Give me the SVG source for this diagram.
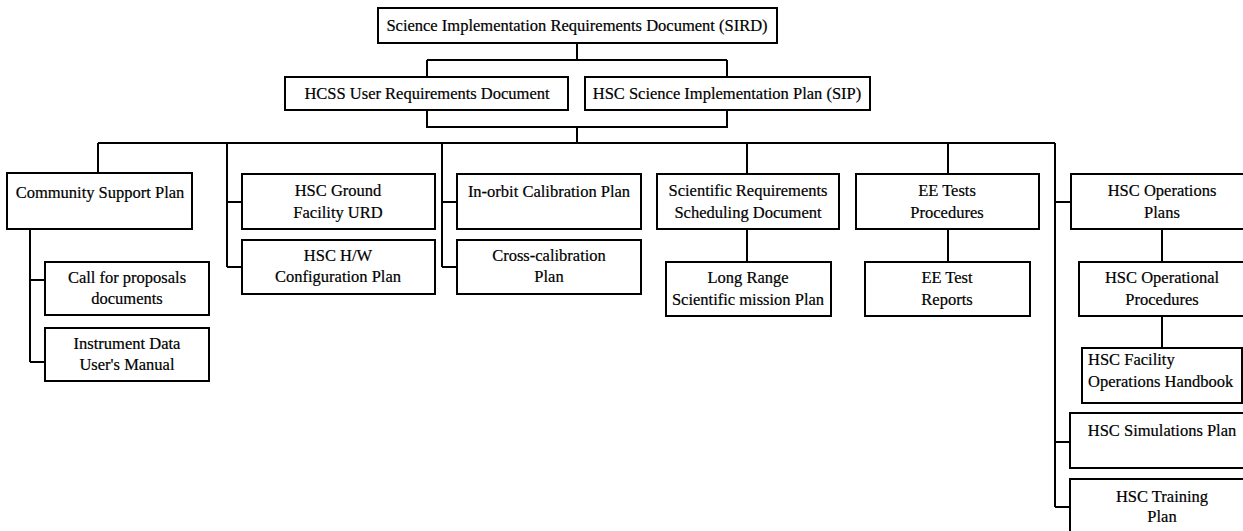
<svg xmlns="http://www.w3.org/2000/svg" width="1243" height="531" viewBox="0 0 1243 531">
  <style>
    .box { fill: #ffffff; stroke: #000000; stroke-width: 2; }
    .lbl { font-family: "Liberation Serif", "Times New Roman", serif; font-size: 16.5px; fill: #000000; stroke: #000000; stroke-width: 0.2; text-anchor: middle; }
    .left { text-anchor: start; }
    .wire { fill: none; stroke: #000000; stroke-width: 2; }
  </style>
  <rect width="1243" height="531" fill="#ffffff"/>

  <!-- tree connectors -->
  <g id="connectors" class="wire">
    <path d="M577,43 V60 M427,60 H727 M427,60 V77 M727,60 V77"/>
    <path d="M427,110 V127 H727 V110 M577,127 V143"/>
    <path d="M98,143 H1055 M98,143 V173"/>
    <path d="M30,229 V362 M30,280 H45 M30,362 H45"/>
    <path d="M227,143 V267 M227,202 H242 M227,267 H242"/>
    <path d="M442,143 V267 M442,202 H457 M442,267 H457"/>
    <path d="M747,143 V174 M747,229 V262"/>
    <path d="M948,143 V174 M948,229 V262"/>
    <path d="M1055,143 V507 M1055,202 H1071 M1055,442 H1070 M1055,507 H1070"/>
    <path d="M1162,229 V262 M1162,316 V348"/>
  </g>

  <g id="sird">
    <rect class="box" x="378" y="8" width="399" height="35"/>
    <text class="lbl" x="577" y="31">Science Implementation Requirements Document (SIRD)</text>
  </g>
  <g id="hcss-urd">
    <rect class="box" x="285" y="77" width="283" height="33"/>
    <text class="lbl" x="427" y="99">HCSS User Requirements Document</text>
  </g>
  <g id="sip">
    <rect class="box" x="585" y="77" width="285" height="33"/>
    <text class="lbl" x="727" y="99">HSC Science Implementation Plan (SIP)</text>
  </g>

  <g id="community-support">
    <rect class="box" x="7" y="173" width="185" height="56"/>
    <text class="lbl" x="100" y="198">Community Support Plan</text>
  </g>
  <g id="call-for-proposals">
    <rect class="box" x="45" y="262" width="164" height="53"/>
    <text class="lbl" x="127" y="283">Call for proposals</text>
    <text class="lbl" x="127" y="304">documents</text>
  </g>
  <g id="instrument-data">
    <rect class="box" x="45" y="328" width="164" height="53"/>
    <text class="lbl" x="127" y="349">Instrument Data</text>
    <text class="lbl" x="127" y="370">User's Manual</text>
  </g>

  <g id="ground-facility-urd">
    <rect class="box" x="242" y="174" width="193" height="55"/>
    <text class="lbl" x="338" y="196">HSC Ground</text>
    <text class="lbl" x="338" y="218">Facility URD</text>
  </g>
  <g id="hw-config">
    <rect class="box" x="242" y="240" width="193" height="54"/>
    <text class="lbl" x="338" y="261">HSC H/W</text>
    <text class="lbl" x="338" y="282">Configuration Plan</text>
  </g>

  <g id="inorbit-cal">
    <rect class="box" x="457" y="174" width="184" height="55"/>
    <text class="lbl" x="549" y="197">In-orbit Calibration Plan</text>
  </g>
  <g id="cross-cal">
    <rect class="box" x="457" y="240" width="184" height="54"/>
    <text class="lbl" x="549" y="261">Cross-calibration</text>
    <text class="lbl" x="549" y="282">Plan</text>
  </g>

  <g id="sci-req-sched">
    <rect class="box" x="657" y="174" width="182" height="55"/>
    <text class="lbl" x="748" y="196">Scientific Requirements</text>
    <text class="lbl" x="748" y="218">Scheduling Document</text>
  </g>
  <g id="long-range">
    <rect class="box" x="666" y="262" width="165" height="54"/>
    <text class="lbl" x="748" y="283">Long Range</text>
    <text class="lbl" x="748" y="305">Scientific mission Plan</text>
  </g>

  <g id="ee-tests">
    <rect class="box" x="856" y="174" width="183" height="55"/>
    <text class="lbl" x="947" y="196">EE Tests</text>
    <text class="lbl" x="947" y="218">Procedures</text>
  </g>
  <g id="ee-reports">
    <rect class="box" x="865" y="262" width="165" height="54"/>
    <text class="lbl" x="947" y="283">EE Test</text>
    <text class="lbl" x="947" y="305">Reports</text>
  </g>

  <g id="ops-plans">
    <rect class="box" x="1071" y="174" width="185" height="55"/>
    <text class="lbl" x="1162" y="196">HSC Operations</text>
    <text class="lbl" x="1162" y="218">Plans</text>
  </g>
  <g id="op-procedures">
    <rect class="box" x="1079" y="262" width="177" height="54"/>
    <text class="lbl" x="1162" y="283">HSC Operational</text>
    <text class="lbl" x="1162" y="305">Procedures</text>
  </g>
  <g id="facility-handbook">
    <rect class="box" x="1082" y="348" width="160" height="55"/>
    <text class="lbl left" x="1088" y="365">HSC Facility</text>
    <text class="lbl left" x="1088" y="387">Operations Handbook</text>
  </g>
  <g id="simulations">
    <rect class="box" x="1070" y="413" width="186" height="55"/>
    <text class="lbl" x="1162" y="436">HSC Simulations Plan</text>
  </g>
  <g id="training">
    <rect class="box" x="1070" y="479" width="186" height="70"/>
    <text class="lbl" x="1162" y="502">HSC Training</text>
    <text class="lbl" x="1162" y="522">Plan</text>
  </g>
</svg>
